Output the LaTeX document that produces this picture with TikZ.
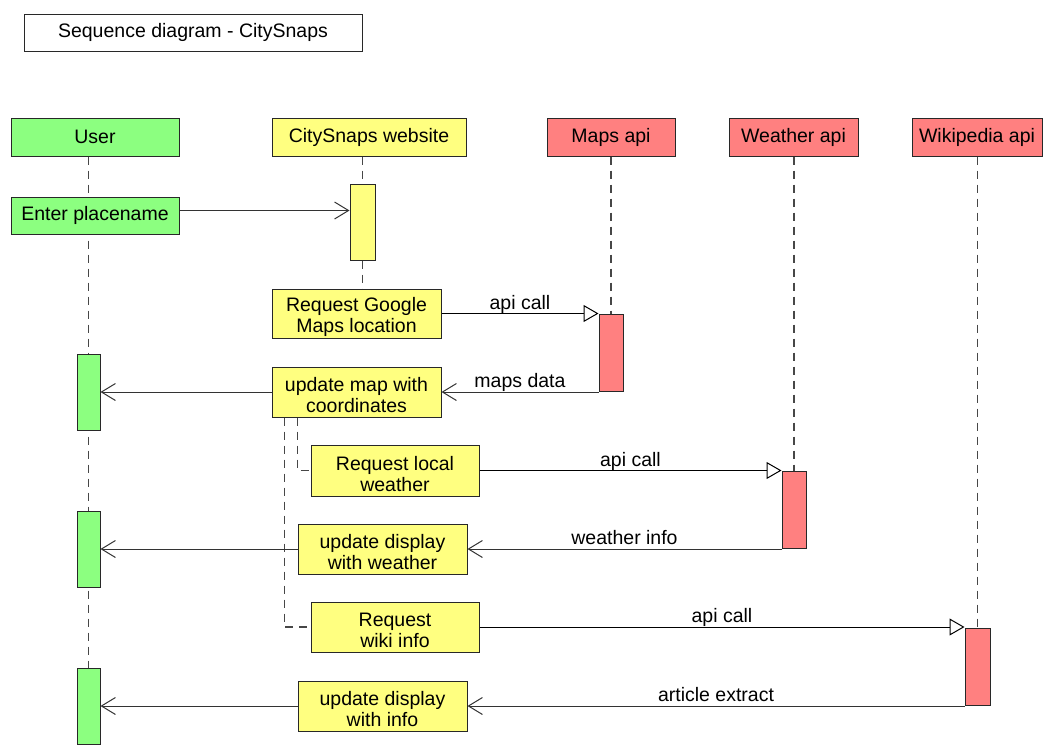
\documentclass[tikz,border=0pt]{standalone}
\usepackage{fontspec}
\setmainfont{Liberation Sans}
\usetikzlibrary{arrows.meta,backgrounds}
\definecolor{grn}{RGB}{140,255,128}
\definecolor{ylw}{RGB}{255,255,128}
\definecolor{rd}{RGB}{255,128,128}
\definecolor{edge}{RGB}{40,40,40}
\newcommand{\tl}{\rule{0pt}{21pt}}
\tikzset{
 box/.style={draw=edge, line width=1pt, inner sep=0pt, align=center, font=\fontsize{19.5}{21}\selectfont},
 actbox/.style={draw=edge, line width=1pt, inner sep=0pt, minimum width=24pt, minimum height=77pt},
 life/.style={draw=black!72, line width=1.5pt, dash pattern=on 8pt off 6pt},
 call/.style={draw=black, line width=1pt, -{Triangle[open,length=15pt,width=17pt,fill=white]}},
 ret/.style={draw=black!80, line width=1pt, -{Straight Barb[length=14pt,width=17pt]}},
 lbl/.style={anchor=base, yshift=4.5pt, inner sep=0pt, font=\fontsize{19.5}{21}\selectfont}
}
\begin{document}
\begin{tikzpicture}[x=1pt,y=-1pt]
\useasboundingbox (0,0) rectangle (1053,753);
% title
\node[box, fill=white, minimum width=338pt, minimum height=37pt] (title) at (193,32.5) {Sequence diagram - CitySnaps};
% headers
\node[box, fill=grn, minimum width=168pt, minimum height=38pt] (user) at (95,137) {User};
\node[box, fill=ylw, minimum width=194pt, minimum height=38pt] (web) at (369,137) {CitySnaps website};
\node[box, fill=rd, minimum width=128pt, minimum height=38pt] (maps) at (611,137) {Maps api};
\node[box, fill=rd, minimum width=129pt, minimum height=38pt] (weather) at (793.5,137) {Weather api};
\node[box, fill=rd, minimum width=130pt, minimum height=38pt] (wiki) at (977,137) {Wikipedia api};
% message boxes
\node[box, fill=grn, minimum width=168pt, minimum height=37pt] (enter) at (95,215.5) {Enter placename};
\node[box, fill=ylw, minimum width=169pt, minimum height=49pt] (rg) at (356.5,313.5) {\tl Request Google\\Maps location};
\node[box, fill=ylw, minimum width=169pt, minimum height=50pt] (um) at (356.5,392) {\tl update map with\\coordinates};
\node[box, fill=ylw, minimum width=168pt, minimum height=51pt] (rlw) at (395,470.5) {\tl Request local\\weather};
\node[box, fill=ylw, minimum width=169pt, minimum height=50pt] (udw) at (382.5,549) {\tl update display\\with weather};
\node[box, fill=ylw, minimum width=168pt, minimum height=50pt] (rwi) at (395,627) {\tl Request\\wiki info};
\node[box, fill=ylw, minimum width=169pt, minimum height=50pt] (udi) at (382.5,706) {\tl update display\\with info};
% activation boxes
\node[actbox, fill=ylw, minimum width=25pt, minimum height=76pt] (wact) at (362.5,222) {};
\node[actbox, fill=rd] (mact) at (611,352.5) {};
\node[actbox, fill=rd] (wtact) at (794,509.5) {};
\node[actbox, fill=rd, minimum width=25pt] (wkact) at (977.5,666.5) {};
\node[actbox, fill=grn, minimum width=23pt, minimum height=76pt] (ua1) at (88.5,392) {};
\node[actbox, fill=grn, minimum width=23pt, minimum height=76pt] (ua2) at (88.5,549) {};
\node[actbox, fill=grn, minimum width=23pt, minimum height=76pt] (ua3) at (88.5,706) {};
% lifelines
\begin{pgfonlayer}{background}
\draw[life] (user.south -| ua1.center) -- (ua3.north);
\draw[life] (web.south -| wact.center) -- (wact.north);
\draw[life] (wact.south) -- (rg.north -| wact.south);
\draw[life] (maps.south -| mact.center) -- (mact.north);
\draw[life] (weather.south -| wtact.center) -- (wtact.north);
\draw[life] (wiki.south -| wkact.center) -- (wkact.north);
\draw[life] ([xshift=13pt]um.south west) |- (rwi.west);
\draw[life] ([xshift=26pt]um.south west) |- (rlw.west);
\end{pgfonlayer}
% messages
\coordinate (e1) at ([yshift=5pt]enter.east);
\draw[ret] (e1) -- (e1 -| wact.west);
\draw[call] (rg.east) -- node[lbl] {api call} (rg.east -| mact.west);
\draw[ret] (um.east -| mact.west) -- node[lbl] {maps data} (um.east);
\draw[ret] (um.west) -- (um.west -| ua1.east);
\draw[call] (rlw.east) -- node[lbl] {api call} (rlw.east -| wtact.west);
\draw[ret] (udw.east -| wtact.west) -- node[lbl] {weather info} (udw.east);
\draw[ret] (udw.west) -- (udw.west -| ua2.east);
\draw[call] (rwi.east) -- node[lbl] {api call} (rwi.east -| wkact.west);
\draw[ret] (udi.east -| wkact.west) -- node[lbl] {article extract} (udi.east);
\draw[ret] (udi.west) -- (udi.west -| ua3.east);
\end{tikzpicture}
\end{document}
